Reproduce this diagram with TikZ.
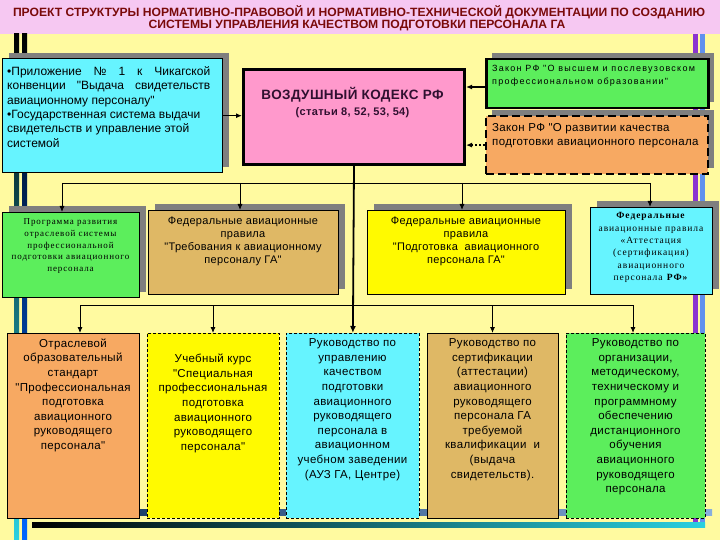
\documentclass[tikz,border=0pt]{standalone}
\usepackage{fontspec}
\usepackage{graphicx}
\setmainfont{Liberation Sans}[LetterSpace=3,Ligatures=TeXOff]
\newfontfamily\serifru{Liberation Serif}[LetterSpace=10,Ligatures=TeXOff]
\newfontfamily\widefont{Liberation Sans}[LetterSpace=14,Ligatures=TeXOff]
\newfontfamily\plainsans{Liberation Sans}[Ligatures=TeXOff]
\usetikzlibrary{arrows.meta,shadows}
\definecolor{bgyellow}{HTML}{FFFAA0}
\definecolor{titlepink}{HTML}{F6C8F2}
\definecolor{titlered}{HTML}{7A0A0A}
\definecolor{cyanbox}{HTML}{66F4FF}
\definecolor{pinkbox}{HTML}{FF99CC}
\definecolor{greenbox}{HTML}{5CEE5C}
\definecolor{orangebox}{HTML}{F7A962}
\definecolor{tanbox}{HTML}{DFB865}
\definecolor{yellowbox}{HTML}{FFFA00}
\definecolor{shadowgray}{HTML}{7F7F7F}
\definecolor{centraltext}{HTML}{301030}
\definecolor{barpurple}{HTML}{8A33D0}
\definecolor{barblue}{HTML}{6090EE}
\definecolor{tabdark}{HTML}{1B3F6B}
\definecolor{tablight}{HTML}{88AEDD}
\definecolor{barteal}{HTML}{107080}
\definecolor{barcyan}{HTML}{2AD0E0}
\begin{document}
\begin{tikzpicture}[x=1pt,y=-1pt,
  box/.style={draw=black,inner sep=0pt,anchor=north west},
  shd/.style={drop shadow={shadow xshift=6pt,shadow yshift=6pt,fill=shadowgray,opacity=1}},
  txt/.style={inner sep=0pt,align=center,anchor=north},
  ctext/.style={txt,font=\fontsize{11.5}{14.6}\selectfont},
  mtext/.style={txt,font=\fontsize{11}{13}\selectfont},
  stext/.style={txt,font=\serifru\fontsize{9}{11.8}\selectfont},
  arr/.style={-{Latex[length=6pt,width=5pt]},line width=0.9pt},
  arrthick/.style={-{Latex[length=6pt,width=5pt]},line width=1.5pt},
  thindash/.style={dash pattern=on 3pt off 2pt,line width=0.8pt},
]
\useasboundingbox (0,0) rectangle (720,540);
% background
\fill[bgyellow] (0,0) rectangle (720,540);
\fill[titlepink] (0,0) rectangle (720,34);
% decorative bars
\shade[top color=black,bottom color=barcyan] (14,34) rectangle (19,540);
\shade[top color=black,bottom color=blue!60!cyan] (22,34) rectangle (27,540);
\fill[barpurple] (693,34) rectangle (698,525);
\fill[barblue] (700,34) rectangle (705,525);
\shade[left color=tabdark,right color=tablight] (130,509) rectangle (712,515);
\shade[left color=black,middle color=barteal,right color=barcyan] (32,522) rectangle (705,527);
% title
\node[inner sep=0pt,text=titlered,font=\plainsans\fontsize{12}{14}\selectfont\bfseries] (t1) at (359,12)
  {\resizebox{692pt}{\height}{ПРОЕКТ СТРУКТУРЫ НОРМАТИВНО-ПРАВОВОЙ И НОРМАТИВНО-ТЕХНИЧЕСКОЙ ДОКУМЕНТАЦИИ ПО СОЗДАНИЮ}};
\node[inner sep=0pt,text=titlered,font=\plainsans\fontsize{12}{14}\selectfont\bfseries] (t2) at (357,26)
  {\resizebox{417pt}{\height}{СИСТЕМЫ УПРАВЛЕНИЯ КАЧЕСТВОМ ПОДГОТОВКИ ПЕРСОНАЛА ГА}};
% top row
\node[box,shd,fill=cyanbox,line width=1.4pt,minimum width=220pt,minimum height=114pt] (a) at (2,58) {};
\node[inner sep=0pt,anchor=north west,align=left,font=\plainsans\fontsize{12}{14.3}\selectfont] (at) at (7,66.5)
  {\hbox to 203pt{•Приложение\hfill №\hfill 1\hfill к\hfill Чикагской}\\
   \hbox to 203pt{конвенции\hfill "Выдача\hfill свидетельств}\\
   авиационному персоналу"\\
   •Государственная система выдачи\\
   свидетельств и управление этой\\
   системой};
\node[box,fill=pinkbox,line width=3pt,minimum width=221pt,minimum height=95pt] (k) at (242,68) {};
\node[inner sep=0pt,text=centraltext,font=\fontsize{13.5}{16}\selectfont\bfseries] (k1) at (352.5,95) {ВОЗДУШНЫЙ КОДЕКС РФ};
\node[inner sep=0pt,text=centraltext,font=\fontsize{11}{13}\selectfont\bfseries] (k2) at (352.5,113) {(статьи 8, 52, 53, 54)};
\node[box,shd,fill=greenbox,line width=2.5pt,minimum width=222pt,minimum height=49pt] (gl) at (485,58) {};
\node[inner sep=0pt,anchor=north west,align=left,font=\widefont\fontsize{9}{13}\selectfont] (glt) at (492,65)
  {Закон РФ "О высшем и послевузовском\\профессиональном образовании"};
\node[box,shd,fill=orangebox,line width=2.2pt,dash pattern=on 8pt off 4pt,minimum width=222pt,minimum height=58pt] (ol) at (485,115) {};
\node[inner sep=0pt,anchor=north west,align=left,font=\fontsize{11.5}{14}\selectfont] (olt) at (492,123)
  {Закон РФ "О развитии качества\\подготовки авиационного персонала};
% middle row
\node[box,shd,fill=greenbox,line width=1pt,minimum width=137pt,minimum height=85pt] (b1) at (2,212) {};
\node[stext] (b1t) at (70.5,218.5) {Программа развития\\отраслевой системы\\профессиональной\\подготовки авиационного\\персонала};
\node[box,shd,fill=tanbox,line width=1pt,minimum width=190pt,minimum height=84pt] (b2) at (148,210) {};
\node[mtext] (b2t) at (243,217) {Федеральные авиационные\\правила\\"Требования к авиационному\\персоналу ГА"};
\node[box,shd,fill=yellowbox,line width=1pt,minimum width=198pt,minimum height=84pt] (b3) at (367,210) {};
\node[mtext] (b3t) at (466,217) {Федеральные авиационные\\правила\\"Подготовка\ \ авиационного\\персонала ГА"};
\node[box,shd,fill=cyanbox,line width=1pt,minimum width=122pt,minimum height=87pt] (b4) at (590,207) {};
\node[txt,font=\serifru\fontsize{9.5}{12.3}\selectfont] (b4t) at (651,212.5)
  {\textbf{Федеральные}\\авиационные правила\\«Аттестация\\(сертификация)\\авиационного\\персонала \textbf{РФ»}};
% bottom row
\node[box,fill=orangebox,line width=1pt,minimum width=132pt,minimum height=185pt] (c1) at (7,333) {};
\node[ctext] (c1t) at (73,338.5) {Отраслевой\\образовательный\\стандарт\\"Профессиональная\\подготовка\\авиационного\\руководящего\\персонала"};
\node[box,thindash,fill=yellowbox,minimum width=132pt,minimum height=185pt] (c2) at (147,333) {};
\node[ctext] (c2t) at (213,354) {Учебный курс\\"Специальная\\профессиональная\\подготовка\\авиационного\\руководящего\\персонала"};
\node[box,thindash,fill=cyanbox,minimum width=133pt,minimum height=185pt] (c3) at (286,333) {};
\node[ctext] (c3t) at (352.5,338.5) {Руководство по\\управлению\\качеством\\подготовки\\авиационного\\руководящего\\персонала в\\авиационном\\учебном заведении\\(АУЗ ГА, Центре)};
\node[box,fill=tanbox,line width=1pt,minimum width=131pt,minimum height=185pt] (c4) at (427,333) {};
\node[ctext] (c4t) at (492.5,338.5) {Руководство по\\сертификации\\(аттестации)\\авиационного\\руководящего\\персонала ГА\\требуемой\\квалификации\ \ и\\(выдача\\свидетельств).};
\node[box,thindash,fill=greenbox,minimum width=139pt,minimum height=185pt] (c5) at (566,333) {};
\node[ctext] (c5t) at (635.5,338.5) {Руководство по\\организации,\\методическому,\\техническому и\\программному\\обеспечению\\дистанционного\\обучения\\авиационного\\руководящего\\персонала};
% connectors top
\draw[arrthick] (a.east) -- (a.east -| k.west);
\coordinate (glp) at (485,87);
\draw[arrthick] (glp) -- (glp -| k.east);
\draw[-{Latex[length=6pt,width=5pt]},line width=2.5pt,dash pattern=on 2pt off 2pt] (ol.west) -- (ol.west -| k.east);
% trunk
\draw[-{Latex[length=7pt,width=6pt]},line width=1.8pt] (k.south) -- (c3.north);
% distribution to middle row
\coordinate (d1a) at (62,183);
\coordinate (d1b) at (240,183);
\coordinate (d1c) at (462,183);
\coordinate (d1d) at (650,183);
\draw[line width=0.9pt] (d1a) -- (d1d);
\draw[arr] (d1a) -- (d1a |- b1.north);
\draw[arr] (d1b) -- (d1b |- b2.north);
\draw[arr] (d1c) -- (d1c |- b3.north);
\draw[arr] (d1d) -- (d1d |- b4.north);
% distribution to bottom row
\coordinate (d2a) at (80,305);
\coordinate (d2b) at (213,305);
\coordinate (d2d) at (492.5,305);
\coordinate (d2e) at (633,305);
\draw[line width=0.9pt] (d2a) -- (d2e);
\draw[arr] (d2a) -- (d2a |- c1.north);
\draw[arr] (d2b) -- (d2b |- c2.north);
\draw[arr] (d2d) -- (d2d |- c4.north);
\draw[arr] (d2e) -- (d2e |- c5.north);
\end{tikzpicture}
\end{document}
